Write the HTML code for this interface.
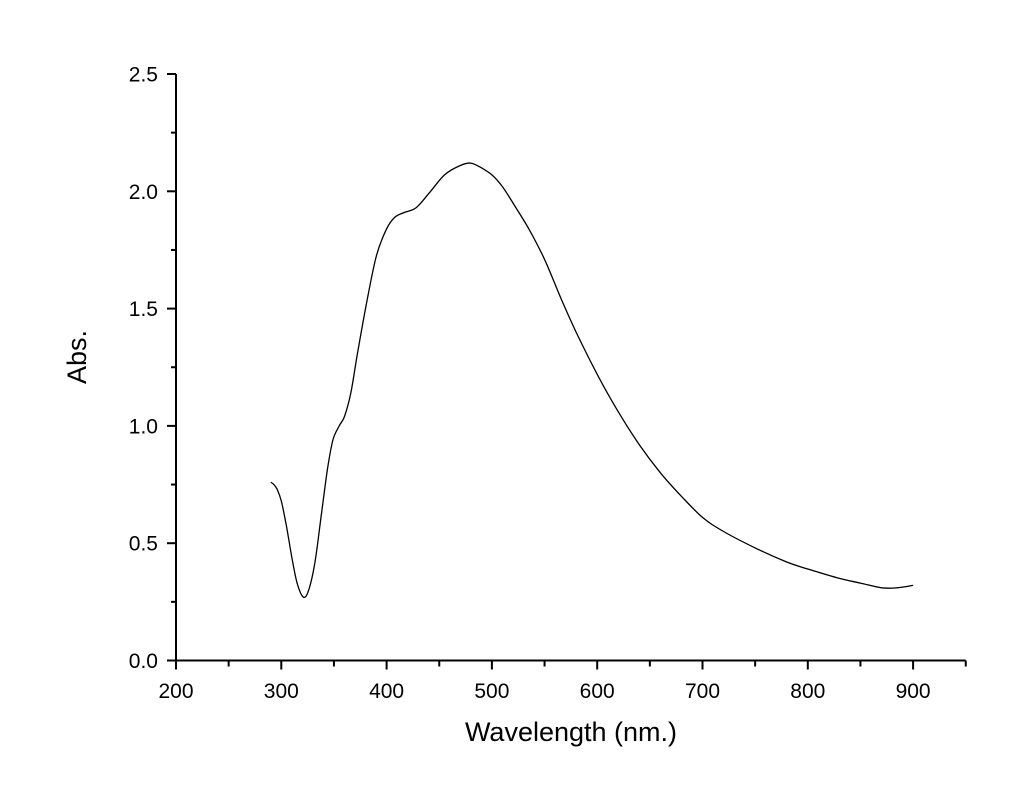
<!DOCTYPE html>
<html><head><meta charset="utf-8"><style>
html,body{margin:0;padding:0;background:#fff;}
svg{display:block;font-family:"Liberation Sans",Arial,sans-serif;}
</style></head><body>
<svg id="chart" width="1024" height="807" viewBox="0 0 1024 807"></svg>
<script>
const wavelengths=[290,293,296,300,305,310,315,321,326,332,338,344,349,355,360,366,372,380,390,400,408,417,428,440,455,470,480,490,500,510,520,535,550,565,580,600,620,640,660,680,700,720,750,780,800,830,850,870,885,900];
const absValues=[0.76,0.75,0.73,0.68,0.57,0.44,0.33,0.27,0.30,0.42,0.62,0.82,0.94,1.00,1.04,1.14,1.30,1.50,1.72,1.84,1.89,1.91,1.93,1.99,2.07,2.11,2.12,2.10,2.07,2.02,1.95,1.84,1.71,1.55,1.40,1.22,1.06,0.92,0.80,0.70,0.61,0.55,0.48,0.42,0.39,0.35,0.33,0.31,0.31,0.32];
const xTicks=[200,300,400,500,600,700,800,900];
const yTicks=[0.0,0.5,1.0,1.5,2.0,2.5];
const NS="http://www.w3.org/2000/svg";
const svg=document.getElementById('chart');
const X0=176,XPX=1.053,Y0=660.5,YPX=234.6;
const sx=v=>X0+(v-200)*XPX;
const sy=v=>Y0-v*YPX;
function mk(tag,attrs,parent){const e=document.createElementNS(NS,tag);for(const k in attrs)e.setAttribute(k,attrs[k]);(parent||svg).appendChild(e);return e;}
const axes=mk('g',{stroke:'#000','stroke-width':2,fill:'none'});


const xa=mk('line',{x1:X0,y1:Y0,x2:sx(950),y2:Y0},axes);


const ya=mk('line',{x1:X0,y1:Y0+1,x2:X0,y2:sy(2.5)},axes);


for(let v=200;v<=950;v+=50){const maj=v%100===0;mk('line',{x1:sx(v),y1:Y0,x2:sx(v),y2:Y0+(maj?9:6)},axes);}
for(let v=0;v<=2.5001;v+=0.25){const maj=Math.abs(v*2-Math.round(v*2))<1e-6;mk('line',{x1:X0,y1:sy(v),x2:X0-(maj?9:5),y2:sy(v)},axes);}
xTicks.forEach(v=>{const t=mk('text',{x:sx(v),y:698,'text-anchor':'middle','font-size':21,fill:'#000'});t.textContent=v;

});
yTicks.forEach(v=>{const t=mk('text',{x:158,y:sy(v)+7.5,'text-anchor':'end','font-size':21,fill:'#000'});t.textContent=v.toFixed(1);

});
const xt=mk('text',{x:571,y:741,'text-anchor':'middle','font-size':27,fill:'#000'});xt.textContent='Wavelength (nm.)';


const yt=mk('text',{x:0,y:0,'text-anchor':'middle','font-size':27,fill:'#000',transform:'translate(86,357) rotate(-90)'});yt.textContent='Abs.';


const pts=wavelengths.map((w,i)=>[sx(w),sy(absValues[i])]);
let d='M'+pts[0][0].toFixed(1)+','+pts[0][1].toFixed(1);
for(let i=0;i<pts.length-1;i++){const p0=pts[Math.max(0,i-1)],p1=pts[i],p2=pts[i+1],p3=pts[Math.min(pts.length-1,i+2)];
const c1=[p1[0]+(p2[0]-p0[0])/6,p1[1]+(p2[1]-p0[1])/6],c2=[p2[0]-(p3[0]-p1[0])/6,p2[1]-(p3[1]-p1[1])/6];
d+='C'+c1[0].toFixed(1)+','+c1[1].toFixed(1)+' '+c2[0].toFixed(1)+','+c2[1].toFixed(1)+' '+p2[0].toFixed(1)+','+p2[1].toFixed(1);}
const line=mk('path',{d:d,fill:'none',stroke:'#000','stroke-width':1.3,'stroke-linejoin':'round'});


</script>
</body></html>
